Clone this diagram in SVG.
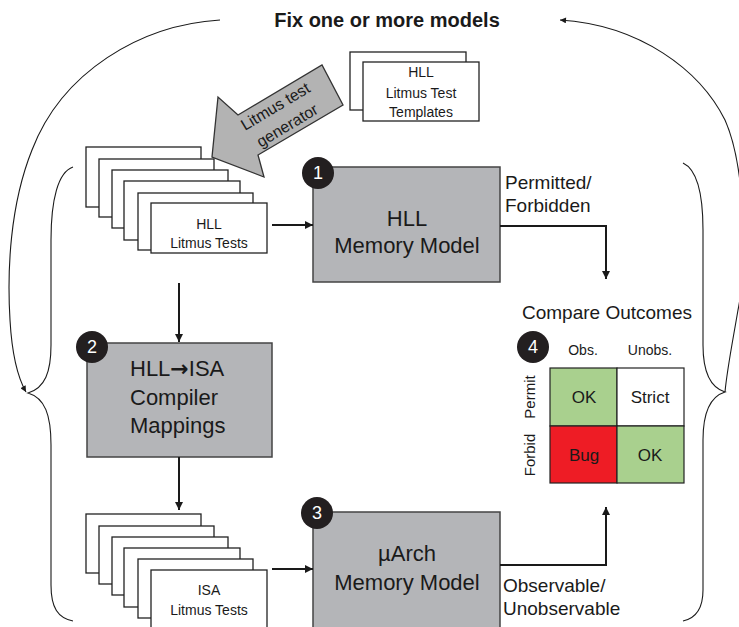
<svg xmlns="http://www.w3.org/2000/svg" width="739" height="627" viewBox="0 0 739 627">
<style>
text{font-family:"Liberation Sans",Arial,sans-serif;fill:#1a1a1a}
.doc{fill:#fff;stroke:#222;stroke-width:1.3}
.box{fill:#b4b5b8;stroke:#444;stroke-width:1.5}
.badge{fill:#231f20}
.num{fill:#fff;font-size:18px;text-anchor:middle}
.c{text-anchor:middle}
.small{font-size:14px}
.big{font-size:22px}
.lab{font-size:19px}
.conn{fill:none;stroke:#1a1a1a;stroke-width:2}
.thin{fill:none;stroke:#1a1a1a;stroke-width:1.1}
.cell{stroke:#222;stroke-width:1.2}
</style>
<defs>
<marker id="ah" viewBox="0 0 10 10" refX="10" refY="5" markerWidth="9" markerHeight="8" markerUnits="userSpaceOnUse" orient="auto"><path d="M0,0 L10,5 L0,10 z" fill="#1a1a1a"/></marker>
<marker id="ahs" viewBox="0 0 10 10" refX="10" refY="5" markerWidth="8" markerHeight="6" markerUnits="userSpaceOnUse" orient="auto"><path d="M0,0 L10,5 L0,10 z" fill="#1a1a1a"/></marker>
</defs>

<text x="387" y="27" class="c" style="font-size:20px;font-weight:bold">Fix one or more models</text>

<g id="feedback">
<path class="thin" d="M220,20 C140,25 62,72 32,150 C10,205 7,270 10,320 C12,355 18,378 26,392" marker-end="url(#ahs)"/>
<path class="thin" d="M725,392 C727,370 732,345 738,310 C748,260 745,165 725,120 C700,70 640,25 560,20" marker-end="url(#ahs)"/>
<path class="thin" d="M73,167 C58,172 51,200 51,240 L51,345 C51,372 45,388 28,393 C45,398 51,415 51,445 L51,585 C51,608 58,618 73,621"/>
<path class="thin" d="M683,163 C698,170 703,195 703,230 L703,345 C703,375 712,388 725,392 C712,396 703,410 703,440 L703,590 C703,608 697,618 683,621"/>
</g>

<g id="templates">
<rect class="doc" x="350" y="52" width="116" height="58"/>
<rect class="doc" x="363" y="62" width="116" height="59"/>
<text x="421" y="77" class="c small">HLL</text>
<text x="421" y="98" class="c small">Litmus Test</text>
<text x="421" y="117" class="c small">Templates</text>
</g>

<g id="generator">
<polygon points="212,157 218,97 238,115 322,65 343,105 258,155 264,177" fill="#b3b3b3" stroke="#333" stroke-width="1.3"/>
<text x="275" y="112" class="c" style="font-size:16px" transform="rotate(-31 275 106)">Litmus test</text>
<text x="287" y="131" class="c" style="font-size:16px" transform="rotate(-31 287 125)">generator</text>
</g>

<g id="hll-tests">
<rect class="doc" x="86" y="147" width="115" height="60"/>
<rect class="doc" x="99" y="159" width="115" height="58"/>
<rect class="doc" x="112" y="170" width="116" height="58"/>
<rect class="doc" x="124" y="181" width="116" height="59"/>
<rect class="doc" x="138" y="193" width="115" height="57"/>
<rect class="doc" x="151" y="203" width="116" height="50"/>
<text x="209" y="229" class="c small">HLL</text>
<text x="209" y="248" class="c small">Litmus Tests</text>
</g>

<g id="hll-mm">
<rect class="box" x="313" y="167" width="187" height="115"/>
<circle class="badge" cx="318" cy="173" r="16"/>
<text x="318" y="179" class="num">1</text>
<text x="407" y="226" class="c big">HLL</text>
<text x="407" y="253" class="c big">Memory Model</text>
</g>

<g id="compiler">
<rect class="box" x="87" y="343" width="185" height="114"/>
<circle class="badge" cx="92" cy="347" r="16"/>
<text x="92" y="353" class="num">2</text>
<text x="130" y="376" class="big">HLL<tspan style="font-family:'DejaVu Sans',sans-serif;font-weight:bold">→</tspan>ISA</text>
<text x="130" y="405" class="big">Compiler</text>
<text x="130" y="433" class="big">Mappings</text>
</g>

<g id="isa-tests">
<rect class="doc" x="86" y="514" width="115" height="59"/>
<rect class="doc" x="99" y="526" width="115" height="58"/>
<rect class="doc" x="112" y="537" width="116" height="58"/>
<rect class="doc" x="124" y="548" width="116" height="59"/>
<rect class="doc" x="138" y="559" width="115" height="59"/>
<rect class="doc" x="151" y="570" width="116" height="70"/>
<text x="209" y="595" class="c small">ISA</text>
<text x="209" y="615" class="c small">Litmus Tests</text>
</g>

<g id="uarch-mm">
<rect class="box" x="313" y="512" width="187" height="118"/>
<circle class="badge" cx="317" cy="513" r="16"/>
<text x="317" y="519" class="num">3</text>
<text x="407" y="561" class="c big">µArch</text>
<text x="407" y="590" class="c big">Memory Model</text>
</g>

<g id="compare">
<text x="607" y="319" class="c" style="font-size:19px">Compare Outcomes</text>
<circle class="badge" cx="533" cy="347" r="16"/>
<text x="533" y="353" class="num">4</text>
<text x="583" y="355" class="c" style="font-size:14px">Obs.</text>
<text x="650" y="355" class="c" style="font-size:14px">Unobs.</text>
<text class="c" style="font-size:15px" transform="translate(535,397) rotate(-90)">Permit</text>
<text class="c" style="font-size:15px" transform="translate(535,455) rotate(-90)">Forbid</text>
<rect class="cell" x="550" y="368" width="67" height="58" fill="#a9d08e"/>
<rect class="cell" x="617" y="368" width="67" height="58" fill="#ffffff"/>
<rect class="cell" x="550" y="426" width="67" height="57" fill="#ee1c25"/>
<rect class="cell" x="617" y="426" width="67" height="57" fill="#a9d08e"/>
<text x="584" y="403" class="c" style="font-size:17px">OK</text>
<text x="650" y="403" class="c" style="font-size:17px">Strict</text>
<text x="584" y="461" class="c" style="font-size:17px">Bug</text>
<text x="650" y="461" class="c" style="font-size:17px">OK</text>
</g>

<g id="connectors">
<path class="conn" d="M272,225 H313" marker-end="url(#ah)"/>
<path class="conn" d="M179,283 V342" marker-end="url(#ah)"/>
<path class="conn" d="M179,457 V510" marker-end="url(#ah)"/>
<path class="conn" d="M272,569 H313" marker-end="url(#ah)"/>
<path class="conn" d="M500,226 H606 V279" marker-end="url(#ah)"/>
<path class="conn" d="M500,565 H606 V507" marker-end="url(#ah)"/>
<text x="505" y="189" class="lab">Permitted/</text>
<text x="505" y="212" class="lab">Forbidden</text>
<text x="503" y="592" class="lab">Observable/</text>
<text x="503" y="615" class="lab">Unobservable</text>
</g>
</svg>
